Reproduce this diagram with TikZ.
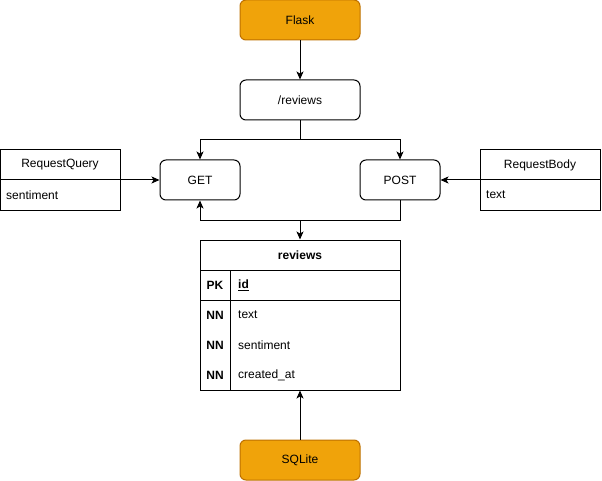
\documentclass[tikz,border=0pt]{standalone}
\usepackage{fontspec}
\setmainfont{Liberation Sans}
\usetikzlibrary{arrows.meta}
\definecolor{flaskfill}{HTML}{F0A30A}
\definecolor{flaskline}{HTML}{BD7000}
\begin{document}
\begin{tikzpicture}[x=1pt,y=-1pt,
  every node/.style={font=\fontsize{12}{14}\selectfont},
  box/.style={draw,line width=1pt,rounded corners=6pt,minimum width=#1,minimum height=40pt,inner sep=0pt},
  box/.default=120pt,
  orange/.style={box,fill=flaskfill,draw=flaskline},
  plain/.style={draw,line width=1pt},
  conn/.style={line width=1pt,-{Stealth[length=8pt,width=7pt,inset=2pt]}},
  lab/.style={inner sep=0pt,anchor=west}
]
\useasboundingbox (0,0) rectangle (602,481);
\node[orange] (flask) at (300,20) {Flask};
\node[box] (rev) at (300,100) {/reviews};
\node[box=80pt] (get) at (200,180) {GET};
\node[box=80pt] (post) at (400,180) {POST};
\node[orange] (sqlite) at (300,460) {SQLite};
% RequestQuery
\node[plain,minimum width=120pt,minimum height=60pt,inner sep=0pt] (rq) at (60,180) {};
\draw[line width=1pt] (rq.west) -- (rq.east);
\node (rqt) at (60,165) {RequestQuery};
\node[lab] (rqf) at (6,195) {sentiment};
% RequestBody
\node[plain,minimum width=120pt,minimum height=60pt,inner sep=0pt] (rb) at (540,180) {};
\draw[line width=1pt] (rb.west) -- (rb.east);
\node (rbt) at (540,165) {RequestBody};
\node[lab] (rbf) at (486,195) {text};
% reviews table
\node[plain,minimum width=200pt,minimum height=150pt,inner sep=0pt] (tab) at (300,315) {};
\draw[line width=1pt] (200,270) -- (400,270);
\draw[line width=1pt] (200,300) -- (400,300);
\draw[line width=1pt] (230,270) -- (230,390);
\node (tt) at (300,255) {\textbf{reviews}};
\node (pk) at (215,285) {\textbf{PK}};
\node[lab] (idf) at (238,285) {\textbf{\underline{id}}};
\node (nn1) at (215,315) {\textbf{NN}};
\node[lab] (f1) at (238,315) {text};
\node (nn2) at (215,345) {\textbf{NN}};
\node[lab] (f2) at (238,345) {sentiment};
\node (nn3) at (215,375) {\textbf{NN}};
\node[lab] (f3) at (238,375) {created\_at};
% connectors
\draw[conn] (flask.south) -- (rev.north);
\coordinate (j1) at (300,140);
\draw[line width=1pt] (rev.south) -- (j1);
\draw[conn] (j1) -| (get.north);
\draw[conn] (j1) -| (post.north);
\draw[conn] (rq.east) -- (get.west);
\draw[conn] (rb.west) -- (post.east);
\coordinate (j2) at (300,220);
\draw[line width=1pt] (post.south) |- (j2);
\draw[conn] (j2) -- (tab.north);
\draw[conn] (j2) -| (get.south);
\draw[conn] (sqlite.north) -- (tab.south);
\end{tikzpicture}
\end{document}
